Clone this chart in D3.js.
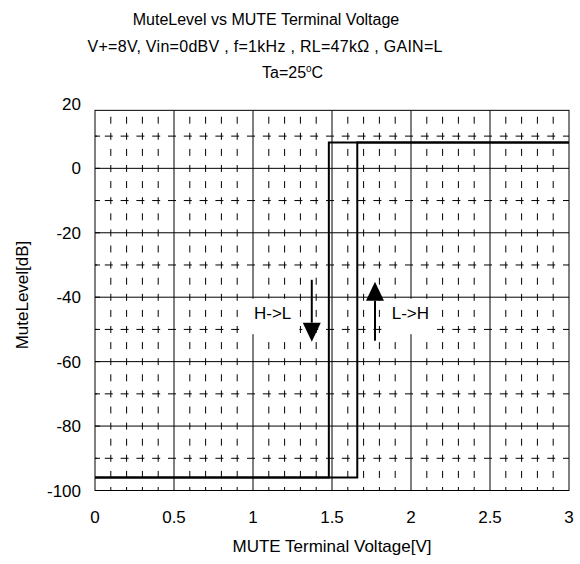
<!DOCTYPE html>
<html><head><meta charset="utf-8">
<script src="https://cdn.jsdelivr.net/npm/d3@7"></script>
<style>
body{margin:0;background:#fff;}
text{font-family:"Liberation Sans",Arial,sans-serif;fill:#000;}
</style></head>
<body>
<svg id="c" width="580" height="564"></svg>
<script>
// ---- data ----
const titleLines = ["MuteLevel vs MUTE Terminal Voltage",
  "V+=8V, Vin=0dBV , f=1kHz , RL=47k\u03A9 , GAIN=L"];
const xTicks = [0, 0.5, 1, 1.5, 2, 2.5, 3];
const xTickLabels = ["0", "0.5", "1", "1.5", "2", "2.5", "3"];
const yTicks = [20, 0, -20, -40, -60, -80, -100];
const yTickLabels = ["20", "0", "-20", "-40", "-60", "-80", "-100"];
// H->L sweep (voltage decreasing)
const hlVoltage = [0, 1.48, 1.48, 3];
const hlLevel = [-96, -96, 8, 8];
// L->H sweep (voltage increasing)
const lhVoltage = [0, 1.66, 1.66, 3];
const lhLevel = [-96, -96, 8, 8];
// annotation arrows
const arrowHL = {x: 1.372, from: -34.6, to: -53.8, label: "H->L", lx: 1.006};
const arrowLH = {x: 1.772, from: -53.5, to: -35.2, label: "L->H", lx: 1.878};

const svg = d3.select("#c");
const x = d3.scaleLinear().domain([0, 3]).range([95, 569]);
const y = d3.scaleLinear().domain([-100, 20]).range([490.5, 103.9]);
const yTopFrame = 18;

// title
const tg = svg.append("g").attr("font-size", 16);
tg.append("text").attr("x", 266).attr("y", 25).attr("text-anchor", "middle").text(titleLines[0]);
tg.append("text").attr("x", 265).attr("y", 52).attr("text-anchor", "middle")
  .attr("textLength", 355).attr("lengthAdjust", "spacing").text(titleLines[1]);
const t3 = tg.append("text").attr("x", 262).attr("y", 78);
t3.append("tspan").text("Ta=25");
t3.append("tspan").attr("font-size", 10).attr("dy", -6).text("o");
t3.append("tspan").attr("dy", 6).text("C");

const g = svg.append("g");
const yTop = y(yTopFrame), yBot = y(-100);

// minor vertical dashed lines every 0.1
const minorX = d3.range(1, 30).filter(i => i % 5 !== 0).map(i => i / 10);
g.selectAll(".mvx").data(minorX).join("line")
  .attr("x1", d => x(d)).attr("x2", d => x(d))
  .attr("y1", yBot).attr("y2", yTop)
  .attr("stroke", "#000").attr("stroke-width", 1)
  .attr("stroke-dasharray", "7,9.1").attr("stroke-dashoffset", 3.5);
// minor horizontal dashed every 10
const minorY = [10, -10, -30, -50, -70, -90];
g.selectAll(".mhy").data(minorY).join("line")
  .attr("x1", x(0)).attr("x2", x(3))
  .attr("y1", d => y(d)).attr("y2", d => y(d))
  .attr("stroke", "#000").attr("stroke-width", 1)
  .attr("stroke-dasharray", "8,7.8").attr("stroke-dashoffset", 6);
// major vertical
g.selectAll(".Mvx").data([0.5, 1, 1.5, 2, 2.5]).join("line")
  .attr("x1", d => x(d)).attr("x2", d => x(d))
  .attr("y1", yBot).attr("y2", yTop)
  .attr("stroke", "#000").attr("stroke-width", 1);
// major horizontal
g.selectAll(".Mhy").data([0, -20, -40, -60, -80]).join("line")
  .attr("x1", x(0)).attr("x2", x(3))
  .attr("y1", d => y(d)).attr("y2", d => y(d))
  .attr("stroke", "#000").attr("stroke-width", 1);
// frame
g.append("rect").attr("x", x(0)).attr("y", yTop)
  .attr("width", x(3) - x(0)).attr("height", yBot - yTop)
  .attr("fill", "none").attr("stroke", "#000").attr("stroke-width", 1);
// left ticks
g.selectAll(".lt").data(d3.range(-100, 21, 10).filter(v => v <= yTopFrame)).join("line")
  .attr("x1", x(0)).attr("x2", x(0) + 5)
  .attr("y1", d => y(d)).attr("y2", d => y(d)).attr("stroke", "#000");

// axes labels
const ax = svg.append("g").attr("font-size", 17);
ax.selectAll(".xl").data(xTicks).join("text")
  .attr("x", d => x(d)).attr("y", 523).attr("text-anchor", "middle")
  .text((d, i) => xTickLabels[i]);
ax.selectAll(".yl").data(yTicks).join("text")
  .attr("x", 81).attr("y", d => y(d) + 6).attr("text-anchor", "end")
  .text((d, i) => yTickLabels[i]);
ax.append("text").attr("x", 332).attr("y", 552).attr("text-anchor", "middle")
  .text("MUTE Terminal Voltage[V]");
ax.append("text").attr("transform", "translate(28,295) rotate(-90)")
  .attr("text-anchor", "middle").text("MuteLevel[dB]");

// annotation label backgrounds + labels
[arrowHL, arrowLH].forEach(a => {
  const ag = svg.append("g");
  const rect = ag.append("rect").attr("fill", "#fff");
  const t = ag.append("text").attr("x", x(a.lx)).attr("y", y(-44.9) + 6)
    .attr("font-size", 17).text(a.label);
  const bb = t.node().getBBox();
  rect.attr("x", bb.x - 8).attr("y", y(-40) + 1.5)
    .attr("width", bb.width + 16).attr("height", y(-51) - y(-40));
});

// curves
const line = d3.line().x(d => x(d[0])).y(d => y(d[1]));
svg.append("path").datum(hlVoltage.map((v, i) => [v, hlLevel[i]]))
  .attr("d", line).attr("fill", "none").attr("stroke", "#000").attr("stroke-width", 2);
svg.append("path").datum(lhVoltage.map((v, i) => [v, lhLevel[i]]))
  .attr("d", line).attr("fill", "none").attr("stroke", "#000").attr("stroke-width", 2);

// arrows
[arrowHL, arrowLH].forEach(a => {
  const dir = a.to < a.from ? 1 : -1; // 1 = downward on screen
  const y0 = y(a.from), y1 = y(a.to);
  const headLen = 19, headW = 9;
  const yBase = y1 - dir * headLen;
  svg.append("line").attr("x1", x(a.x)).attr("x2", x(a.x))
    .attr("y1", y0).attr("y2", yBase).attr("stroke", "#000").attr("stroke-width", 2);
  svg.append("path")
    .attr("d", `M${x(a.x) - headW},${yBase} L${x(a.x) + headW},${yBase} L${x(a.x)},${y1} Z`)
    .attr("fill", "#000");
});
</script>
</body></html>
